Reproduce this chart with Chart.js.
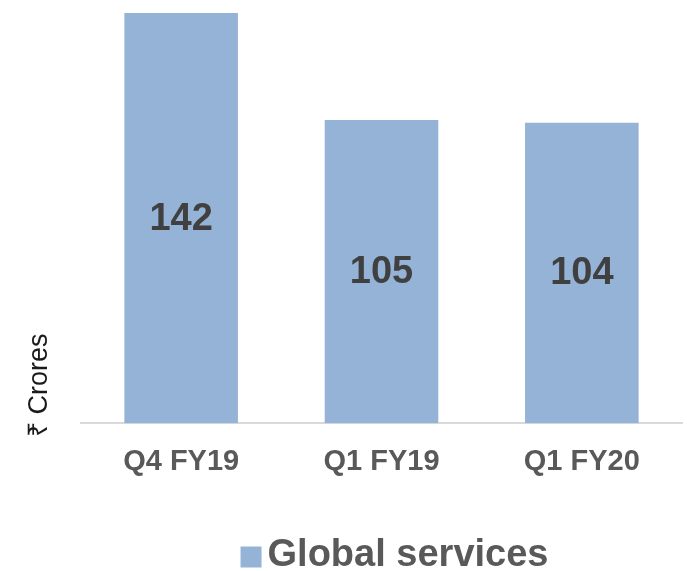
<!DOCTYPE html>
<html>
<head>
<meta charset="utf-8">
<script src="https://cdn.jsdelivr.net/npm/chart.js@4"></script>
<style>
  html, body { margin: 0; padding: 0; background: #fff; }
  #wrap { width: 687px; height: 571px; }
</style>
</head>
<body>
<div id="wrap"><canvas id="graf"></canvas></div>
<script>
const categories = ["Q4 FY19", "Q1 FY19", "Q1 FY20"];
const globalServices = [142, 105, 104];
const seriesName = "Global services";
const yTitle = "₹ Crores";

const FONTE = "'Liberation Sans', Arial, sans-serif";
const COR_BARRA = "#95b3d7";

// valores no meio de cada barra, título do eixo y e legenda
const extras = {
  id: "extras",
  afterDatasetsDraw(chart) {
    const ctx = chart.ctx;
    const area = chart.chartArea;
    const meta = chart.getDatasetMeta(0);
    ctx.save();
    ctx.font = "bold 38px " + FONTE;
    ctx.fillStyle = "#404040";
    ctx.textAlign = "center";
    ctx.textBaseline = "middle";
    meta.data.forEach((bar, i) => {
      ctx.fillText(String(globalServices[i]), bar.x, (bar.y + bar.base) / 2 + 1);
    });

    // título do eixo y
    ctx.save();
    ctx.translate(area.left - 41, area.bottom - 38);
    ctx.rotate(-Math.PI / 2);
    ctx.font = "27px " + FONTE;
    ctx.fillStyle = "#1a1a1a";
    ctx.fillText(yTitle, 0, 0);
    ctx.restore();

    // legenda
    ctx.font = "bold 38px " + FONTE;
    const tw = ctx.measureText(seriesName).width;
    const box = 21, gap = 6;
    const total = box + gap + tw;
    const x0 = (area.left + area.right) / 2 + 13 - total / 2;
    const yc = chart.height - 15;
    ctx.fillStyle = COR_BARRA;
    ctx.fillRect(x0, yc - box / 2 + 1, box, box);
    ctx.fillStyle = "#595959";
    ctx.textAlign = "left";
    ctx.fillText(seriesName, x0 + box + gap, yc);
    ctx.restore();
  }
};

new Chart(document.getElementById("graf"), {
  type: "bar",
  data: {
    labels: categories,
    datasets: [{
      label: seriesName,
      data: globalServices,
      backgroundColor: COR_BARRA,
      barPercentage: 0.567,
      categoryPercentage: 1
    }]
  },
  options: {
    responsive: true,
    maintainAspectRatio: false,
    animation: false,
    layout: { padding: { top: 13, left: 81, right: 5, bottom: 79 } },
    plugins: {
      tooltip: { enabled: false },
      legend: { display: false }
    },
    scales: {
      x: {
        grid: { display: false },
        border: { display: true, color: "#d9d9d9", width: 2 },
        ticks: {
          color: "#595959",
          font: { family: FONTE, size: 29, weight: "bold" },
          padding: 13
        }
      },
      y: {
        display: false,
        min: 0,
        max: 142
      }
    }
  },
  plugins: [extras]
});
</script>
</body>
</html>
